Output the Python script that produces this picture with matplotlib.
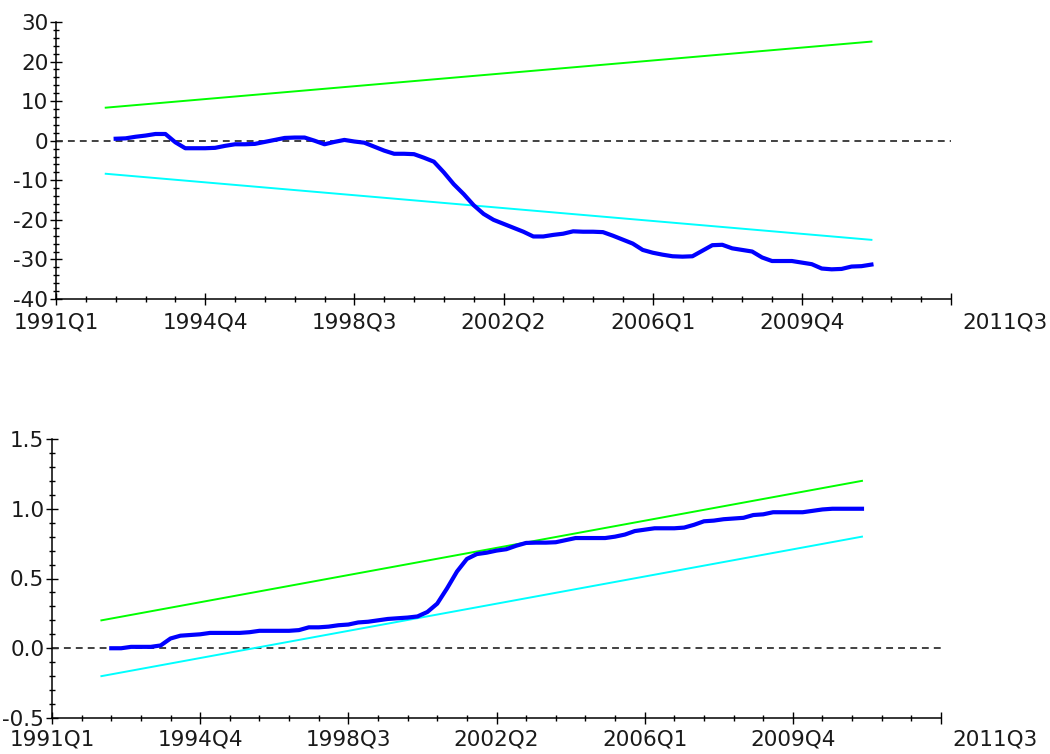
import numpy as np
import pandas as pd
import matplotlib
matplotlib.use('Agg')
import matplotlib.pyplot as plt
from matplotlib.ticker import MultipleLocator, FormatStrFormatter

plt.rcParams['font.family'] = ['DejaVu Sans']
plt.rcParams['axes.unicode_minus'] = False

# sample: CUSUM runs 1992Q3..2011Q3, bounds drawn from 1992Q2
base = pd.Period('1991Q1', freq='Q')
obs_start = '1992Q3'
obs_end = '2011Q3'
bound_dates = ['1992Q2', '2011Q3']

cusum = [0.5, 0.6, 1.0, 1.3, 1.7, 1.7, -0.4, -1.9, -1.9, -1.9,
         -1.8, -1.3, -0.9, -0.9, -0.8, -0.3, 0.2, 0.7, 0.8, 0.8,
         0.0, -0.9, -0.3, 0.2, -0.2, -0.5, -1.5, -2.5, -3.3, -3.3,
         -3.4, -4.3, -5.3, -8.0, -11.0, -13.5, -16.3, -18.5, -20.0, -21.0,
         -22.0, -23.0, -24.2, -24.2, -23.8, -23.5, -22.9, -23.0, -23.0, -23.1,
         -24.0, -25.0, -26.0, -27.6, -28.3, -28.8, -29.2, -29.3, -29.2, -27.8,
         -26.4, -26.3, -27.2, -27.6, -28.0, -29.5, -30.4, -30.4, -30.4, -30.8,
         -31.2, -32.3, -32.5, -32.4, -31.8, -31.7, -31.3]
cusum_upper = [8.35, 25.05]
cusum_lower = [-8.35, -25.05]

cusumsq = [0.0, 0.0, 0.01, 0.01, 0.01, 0.02, 0.07, 0.09, 0.095, 0.10,
           0.11, 0.11, 0.11, 0.11, 0.115, 0.125, 0.125, 0.125, 0.125, 0.13,
           0.15, 0.15, 0.155, 0.165, 0.17, 0.185, 0.19, 0.20, 0.21, 0.215,
           0.22, 0.228, 0.26, 0.32, 0.43, 0.55, 0.64, 0.675, 0.685, 0.70,
           0.71, 0.735, 0.755, 0.757, 0.757, 0.76, 0.775, 0.79, 0.79, 0.79,
           0.79, 0.80, 0.815, 0.84, 0.85, 0.86, 0.86, 0.86, 0.865, 0.885,
           0.91, 0.915, 0.925, 0.93, 0.935, 0.955, 0.96, 0.975, 0.975, 0.975,
           0.975, 0.985, 0.995, 1.0, 1.0, 1.0, 1.0]
sq_upper = [0.2, 1.2]
sq_lower = [-0.2, 0.8]

tick_labels = ['1991Q1', '1994Q4', '1998Q3', '2002Q2', '2006Q1', '2009Q4', '']
end_label = '2011Q3'


def qidx(p):
    return (pd.Period(p, freq='Q') - base).n


x_obs = [(p - base).n for p in pd.period_range(obs_start, obs_end, freq='Q')]
x_bnd = [qidx(p) for p in bound_dates]

fig = plt.figure(figsize=(10.5, 7.54), dpi=100)
ax1 = fig.add_axes([56/1050, 1-299/754, 895/1050, 277/754])
ax2 = fig.add_axes([52/1050, 1-718/754, 889/1050, 279/754])

txt = '#1a1a1a'


def style(ax, ylo, yhi, major, minor, fmt, xpad):
    ax.set_xlim(0, 90)
    ax.set_ylim(ylo, yhi)
    for s in ['top', 'right']:
        ax.spines[s].set_visible(False)
    for s in ['left', 'bottom']:
        ax.spines[s].set_linewidth(1.1)
        ax.spines[s].set_color('black')
    ax.set_xticks(np.arange(0, 91, 15))
    ax.set_xticklabels(tick_labels)
    ax.xaxis.set_minor_locator(MultipleLocator(3))
    ax.yaxis.set_major_locator(MultipleLocator(major))
    ax.yaxis.set_minor_locator(MultipleLocator(minor))
    ax.yaxis.set_major_formatter(FormatStrFormatter(fmt))
    ax.tick_params(which='major', direction='inout', length=9, width=1.0,
                   labelsize=15.5, labelcolor=txt)
    ax.tick_params(which='minor', direction='inout', length=4.5, width=1.0)
    ax.tick_params(axis='x', which='major', pad=xpad)
    ax.tick_params(axis='y', which='major', pad=1)
    ax.annotate(end_label, xy=(90, 0), xycoords=ax.get_xaxis_transform(),
                xytext=(8, -(4.5 + xpad)), textcoords='offset points',
                ha='left', va='top', fontsize=15.5, color=txt)


# CUSUM
ax1.axhline(0, color='#333333', lw=1.3, ls=(0, (3.8, 2.8)))
ax1.plot(x_bnd, cusum_upper, color='#00ff00', lw=1.4)
ax1.plot(x_bnd, cusum_lower, color='#00ffff', lw=1.4)
ax1.plot(x_obs, cusum, color='#0000ff', lw=3.0)
style(ax1, -40, 30, 10, 2, '%d', 5)

# CUSUM of squares
ax2.axhline(0, color='#333333', lw=1.3, ls=(0, (3.8, 2.8)))
ax2.plot(x_bnd, sq_upper, color='#00ff00', lw=1.4)
ax2.plot(x_bnd, sq_lower, color='#00ffff', lw=1.4)
ax2.plot(x_obs, cusumsq, color='#0000ff', lw=3.0)
style(ax2, -0.5, 1.5, 0.5, 0.1, '%.1f', 4)

fig.savefig('out.png', dpi=100)
